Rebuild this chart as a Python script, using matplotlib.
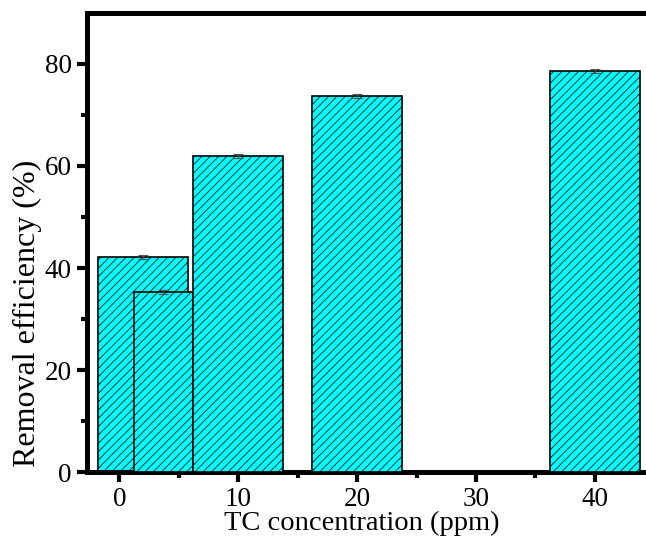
import matplotlib
matplotlib.use('Agg')
import matplotlib.pyplot as plt
import numpy as np

# TC concentration (ppm) and removal efficiency (%)
conc = [2.0, 3.7, 10.0, 20.0, 40.0]
removal = [42.2, 35.3, 61.9, 73.8, 78.6]
removal_err = [0.4, 0.3, 0.4, 0.4, 0.4]
widths = [7.6, 5.0, 7.6, 7.6, 7.6]

plt.rcParams['font.family'] = ['Liberation Serif', 'DejaVu Serif']
plt.rcParams['hatch.linewidth'] = 0.55
plt.rcParams['hatch.color'] = '#1d4848'

fig = plt.figure(figsize=(6.46, 5.43), dpi=100)
ax = fig.add_axes([87/646, 1-472/543, 565/646, (472-13)/543])

for i in range(len(conc)):
    ax.bar(conc[i], removal[i], width=widths[i], color='#00ffff', edgecolor='black',
           linewidth=1.2, hatch='////', zorder=2+i)
    ax.errorbar(conc[i], removal[i], yerr=removal_err[i], fmt='none', ecolor='#555555',
                elinewidth=0.8, capsize=3.5, capthick=0.8, zorder=2+i)

ax.set_xlim(-2.72, 44.8)
ax.set_ylim(0, 90)
ax.set_xticks([0, 10, 20, 30, 40])
ax.set_xticks([5, 15, 25, 35], minor=True)
ax.set_yticks([0, 20, 40, 60, 80])
ax.set_yticks([10, 30, 50, 70], minor=True)

for s in ['left', 'bottom', 'top']:
    ax.spines[s].set_linewidth(3.6)
ax.spines['right'].set_visible(False)

ax.tick_params(which='major', direction='out', length=7, width=3, labelsize=19.5, pad=4)
ax.tick_params(which='minor', direction='out', length=4, width=3)
ax.tick_params(top=False, right=False)

ax.set_xlabel('TC concentration (ppm)', fontsize=20.5)
ax.xaxis.set_label_coords(0.487, -0.085)
ax.set_ylabel('Removal efficiency (%)', fontsize=23)
ax.yaxis.set_label_coords(-0.08, 0.345)

fig.savefig('out.png', dpi=100)
